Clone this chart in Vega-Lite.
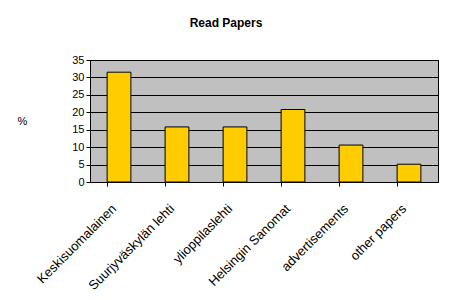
{
  "$schema": "https://vega.github.io/schema/vega-lite/v6.json",
  "autosize": "none",
  "width": 348,
  "height": 122,
  "padding": {"left": 90, "top": 60, "right": 17, "bottom": 118},
  "background": "white",
  "title": {"text": "Read Papers", "font": "Liberation Sans", "fontSize": 12, "fontWeight": "bold", "color": "black", "anchor": "middle", "dx": -38, "offset": 24},
  "data": {"values": [
    {"paper": "Keskisuomalainen", "pct": 31.5},
    {"paper": "Suurjyväskylän lehti", "pct": 15.8},
    {"paper": "ylioppilaslehti", "pct": 15.8},
    {"paper": "Helsingin Sanomat", "pct": 20.8},
    {"paper": "advertisements", "pct": 10.6},
    {"paper": "other papers", "pct": 5.1}
  ]},
  "mark": {"type": "bar", "fill": "#FFCC00", "stroke": "black", "strokeWidth": 1},
  "encoding": {
    "x": {"field": "paper", "type": "nominal", "sort": null,
      "scale": {"paddingInner": 0.59, "paddingOuter": 0.295},
      "axis": {"title": null, "labelAngle": -45, "labelAlign": "right", "labelBaseline": "top", "labelFont": "Liberation Sans", "labelFontSize": 13, "labelColor": "black", "labelPadding": 16, "bandPosition": 0, "tickSize": 4, "tickColor": "black", "domainColor": "black", "grid": false, "labelOffset": -9, "labelLimit": 0}},
    "y": {"field": "pct", "type": "quantitative",
      "scale": {"domain": [0, 35], "nice": false},
      "axis": {"title": "%", "titleAngle": 0, "titleX": -68, "titleY": 61, "titleAlign": "center", "titleBaseline": "middle", "titleFont": "Liberation Sans", "titleFontSize": 11, "titleFontWeight": "normal", "titleColor": "black", "values": [0, 5, 10, 15, 20, 25, 30, 35], "labelFont": "Liberation Sans", "labelFontSize": 11, "labelColor": "black", "tickSize": 4, "tickColor": "black", "domainColor": "black", "gridColor": "black", "gridOpacity": 1, "labelPadding": 2}}
  },
  "config": {"view": {"fill": "#C0C0C0", "stroke": "black", "strokeWidth": 1}}
}
